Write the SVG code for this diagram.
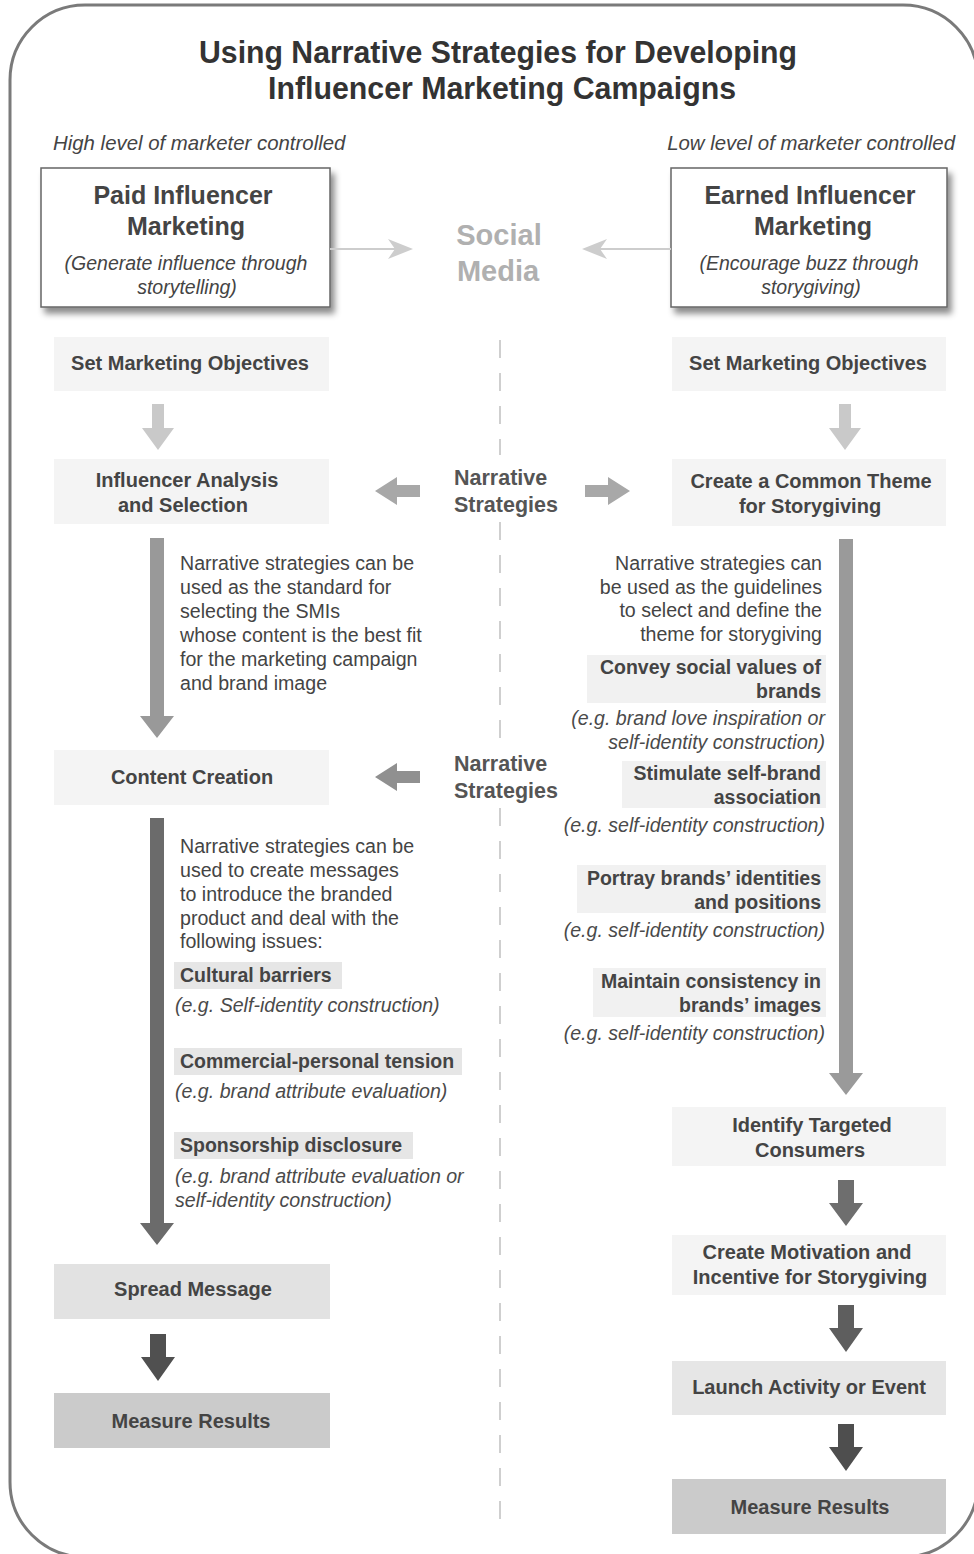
<svg xmlns="http://www.w3.org/2000/svg" width="974" height="1554" viewBox="0 0 974 1554">
<defs>
<filter id="shadow" x="-10%" y="-10%" width="130%" height="140%">
<feDropShadow dx="4" dy="6" stdDeviation="3" flood-color="#000" flood-opacity="0.45"/>
</filter>
</defs>
<style>
text{font-family:"Liberation Sans",Arial,Helvetica,sans-serif;}
.title{font-size:31px;font-weight:bold;fill:#333;text-anchor:middle;}
.ctrl{font-size:20.4px;font-style:italic;fill:#444;}
.head{font-size:25px;font-weight:bold;fill:#444;text-anchor:middle;}
.sub{font-size:19.5px;font-style:italic;fill:#444;text-anchor:middle;}
.lbl{font-size:20px;font-weight:bold;fill:#444;text-anchor:middle;}
.body{font-size:19.6px;fill:#444;}
.hl{font-size:19.5px;font-weight:bold;fill:#444;}
.it{font-size:19.6px;font-style:italic;fill:#4a4a4a;}
.r{text-anchor:end;}
.ns{font-size:21.5px;font-weight:bold;fill:#555;}
.sm{font-size:29px;font-weight:bold;fill:#b0b0b0;text-anchor:middle;}
.bx{fill:#f4f4f4;}
.hb{fill:#e6e6e6;}
.hbr{fill:#f1f1f1;}
.top{fill:#fff;stroke:#666;stroke-width:1.5;}
</style>
<rect x="10" y="5" width="968" height="1552" rx="75" ry="75" fill="#fff" stroke="#7a7a7a" stroke-width="3"/>
<g id="title">
<text class="title" x="498" y="63" textLength="598" lengthAdjust="spacingAndGlyphs">Using Narrative Strategies for Developing</text>
<text class="title" x="502" y="99" textLength="468" lengthAdjust="spacingAndGlyphs">Influencer Marketing Campaigns</text>
<text class="ctrl" x="53" y="150">High level of marketer controlled</text>
<text class="ctrl" x="955" y="150" text-anchor="end">Low level of marketer controlled</text>
</g>
<g id="social-media">
<text class="sm" x="499" y="245">Social</text>
<text class="sm" x="498" y="281">Media</text>
</g>
<g id="paid">
<rect class="top" x="41" y="168" width="289" height="139" filter="url(#shadow)"/>
<text class="head" x="183" y="204">Paid Influencer</text>
<text class="head" x="186" y="235">Marketing</text>
<text class="sub" x="186" y="270">(Generate influence through</text>
<text class="sub" x="187" y="294">storytelling)</text>
</g>
<g id="earned">
<rect class="top" x="671" y="168" width="276" height="139" filter="url(#shadow)"/>
<text class="head" x="810" y="204">Earned Influencer</text>
<text class="head" x="813" y="235">Marketing</text>
<text class="sub" x="809" y="270">(Encourage buzz through</text>
<text class="sub" x="811" y="294">storygiving)</text>
</g>
<g id="divider" stroke="#cfcfcf" stroke-width="2" stroke-dasharray="18 15">
<line x1="500" y1="340" x2="500" y2="455"/>
<line x1="500" y1="522" x2="500" y2="748"/>
<line x1="500" y1="808" x2="500" y2="1520"/>
</g>
<g id="connectors">
<line x1="330" y1="249" x2="400" y2="249" stroke="#cdcdcd" stroke-width="2"/>
<polygon points="413,249 388,239 395,249 388,259" fill="#cdcdcd"/>
<line x1="671" y1="249" x2="595" y2="249" stroke="#cdcdcd" stroke-width="2"/>
<polygon points="582,249 607,239 600,249 607,259" fill="#cdcdcd"/>
<path d="M152,404 H164 V428 H174 L158,450 L142,428 H152 Z" fill="#c9c9c9"/>
<path d="M839,404 H851 V428 H861 L845,450 L829,428 H839 Z" fill="#c9c9c9"/>
<path d="M150,538 H164 V716 H174 L157,738 L140,716 H150 Z" fill="#999"/>
<path d="M150,818 H164 V1223 H174 L157,1245 L140,1223 H150 Z" fill="#6b6b6b"/>
<path d="M839,539 H853 V1073 H863 L846,1095 L829,1073 H839 Z" fill="#9a9a9a"/>
<path d="M150,1334 H166 V1357 H175 L158,1381 L141,1357 H150 Z" fill="#505050"/>
<path d="M838,1180 H854 V1203 H863 L846,1226 L829,1203 H838 Z" fill="#6e6e6e"/>
<path d="M838,1305 H854 V1328 H863 L846,1352 L829,1328 H838 Z" fill="#5e5e5e"/>
<path d="M838,1424 H854 V1447 H863 L846,1471 L829,1447 H838 Z" fill="#4e4e4e"/>
<path d="M420,485 V497 H397 V505 L375,491 L397,477 V485 Z" fill="#a8a8a8"/>
<path d="M585,485 V497 H608 V505 L630,491 L608,477 V485 Z" fill="#a8a8a8"/>
<path d="M420,771 V783 H397 V791 L375,777 L397,763 V771 Z" fill="#909090"/>
</g>
<g id="narrative-1">
<text class="ns" x="454" y="485">Narrative</text>
<text class="ns" x="454" y="512">Strategies</text>
</g>
<g id="narrative-2">
<text class="ns" x="454" y="771">Narrative</text>
<text class="ns" x="454" y="798">Strategies</text>
</g>
<g id="left-objectives">
<rect class="bx" x="54" y="337" width="275" height="54"/>
<text class="lbl" x="190" y="370">Set Marketing Objectives</text>
</g>
<g id="influencer-analysis">
<rect class="bx" x="54" y="459" width="275" height="65"/>
<text class="lbl" x="187" y="487">Influencer Analysis</text>
<text class="lbl" x="183" y="512">and Selection</text>
</g>
<g id="left-note-1">
<text class="body" x="180" y="570">Narrative strategies can be</text>
<text class="body" x="180" y="594">used as the standard for</text>
<text class="body" x="180" y="618">selecting the SMIs</text>
<text class="body" x="180" y="642">whose content is the best fit</text>
<text class="body" x="180" y="666">for the marketing campaign</text>
<text class="body" x="180" y="690">and brand image</text>
</g>
<g id="content-creation">
<rect class="bx" x="54" y="750" width="275" height="55"/>
<text class="lbl" x="192" y="784">Content Creation</text>
</g>
<g id="left-note-2">
<text class="body" x="180" y="853">Narrative strategies can be</text>
<text class="body" x="180" y="877">used to create messages</text>
<text class="body" x="180" y="901">to introduce the branded</text>
<text class="body" x="180" y="925">product and deal with the</text>
<text class="body" x="180" y="948">following issues:</text>
</g>
<g id="cultural-barriers">
<rect class="hb" x="174" y="962" width="168" height="27"/>
<text class="hl" x="180" y="982">Cultural barriers</text>
<text class="it" x="175" y="1012">(e.g. Self-identity construction)</text>
</g>
<g id="commercial-tension">
<rect class="hb" x="174" y="1048" width="288" height="27"/>
<text class="hl" x="180" y="1068">Commercial-personal tension</text>
<text class="it" x="175" y="1098">(e.g. brand attribute evaluation)</text>
</g>
<g id="sponsorship">
<rect class="hb" x="174" y="1132" width="239" height="27"/>
<text class="hl" x="180" y="1152">Sponsorship disclosure</text>
<text class="it" x="175" y="1183">(e.g. brand attribute evaluation or</text>
<text class="it" x="175" y="1207">self-identity construction)</text>
</g>
<g id="spread-message">
<rect fill="#e2e2e2" x="54" y="1264" width="276" height="55"/>
<text class="lbl" x="193" y="1296">Spread Message</text>
</g>
<g id="left-measure">
<rect fill="#cbcbcb" x="54" y="1393" width="276" height="55"/>
<text class="lbl" x="191" y="1428">Measure Results</text>
</g>
<g id="right-objectives">
<rect class="bx" x="672" y="337" width="274" height="54"/>
<text class="lbl" x="808" y="370">Set Marketing Objectives</text>
</g>
<g id="common-theme">
<rect class="bx" x="672" y="459" width="274" height="67"/>
<text class="lbl" x="811" y="488">Create a Common Theme</text>
<text class="lbl" x="810" y="513">for Storygiving</text>
</g>
<g id="right-note">
<text class="body r" x="822" y="570">Narrative strategies can</text>
<text class="body r" x="822" y="594">be used as the guidelines</text>
<text class="body r" x="822" y="617">to select and define the</text>
<text class="body r" x="822" y="641">theme for storygiving</text>
</g>
<g id="social-values">
<rect class="hbr" x="587" y="655" width="239" height="48"/>
<text class="hl r" x="821" y="674">Convey social values of</text>
<text class="hl r" x="821" y="698">brands</text>
<text class="it r" x="825" y="725">(e.g. brand love inspiration or</text>
<text class="it r" x="825" y="749">self-identity construction)</text>
</g>
<g id="self-brand">
<rect class="hbr" x="622" y="761" width="204" height="47"/>
<text class="hl r" x="821" y="780">Stimulate self-brand</text>
<text class="hl r" x="821" y="804">association</text>
<text class="it r" x="825" y="832">(e.g. self-identity construction)</text>
</g>
<g id="portray">
<rect class="hbr" x="577" y="865" width="249" height="48"/>
<text class="hl r" x="821" y="885">Portray brands’ identities</text>
<text class="hl r" x="821" y="909">and positions</text>
<text class="it r" x="825" y="937">(e.g. self-identity construction)</text>
</g>
<g id="consistency">
<rect class="hbr" x="593" y="968" width="233" height="49"/>
<text class="hl r" x="821" y="988">Maintain consistency in</text>
<text class="hl r" x="821" y="1012">brands’ images</text>
<text class="it r" x="825" y="1040">(e.g. self-identity construction)</text>
</g>
<g id="identify-consumers">
<rect class="bx" x="672" y="1107" width="274" height="59"/>
<text class="lbl" x="812" y="1132">Identify Targeted</text>
<text class="lbl" x="810" y="1157">Consumers</text>
</g>
<g id="motivation">
<rect class="bx" x="672" y="1235" width="274" height="60"/>
<text class="lbl" x="807" y="1259">Create Motivation and</text>
<text class="lbl" x="810" y="1284">Incentive for Storygiving</text>
</g>
<g id="launch">
<rect fill="#e6e6e6" x="672" y="1361" width="274" height="54"/>
<text class="lbl" x="809" y="1394">Launch Activity or Event</text>
</g>
<g id="right-measure">
<rect fill="#cbcbcb" x="672" y="1479" width="274" height="55"/>
<text class="lbl" x="810" y="1514">Measure Results</text>
</g>
</svg>
